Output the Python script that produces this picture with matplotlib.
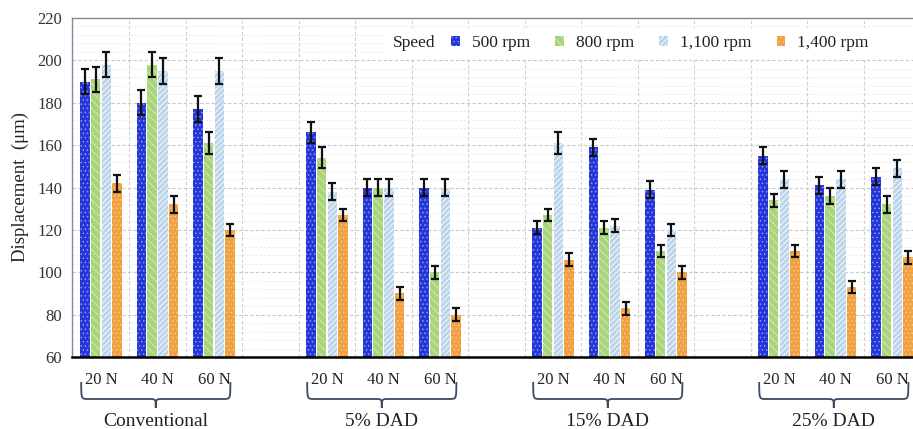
import matplotlib
matplotlib.use("Agg")
import matplotlib.pyplot as plt
import numpy as np
from matplotlib.patches import Rectangle, PathPatch
from matplotlib.path import Path
import matplotlib.transforms as mtransforms
from matplotlib.ticker import MultipleLocator

# ---- data ----
groups = ["Conventional", "5% DAD", "15% DAD", "25% DAD"]
loads = ["20 N", "40 N", "60 N"]
speeds = ["500 rpm", "800 rpm", "1,100 rpm", "1,400 rpm"]

# values per speed, ordered: group x load (12 clusters)
v500 = [190, 180, 177, 166, 140, 140, 121, 159, 139, 155, 141, 145]
v800 = [191, 198, 161, 154, 140, 100, 127, 121, 110, 134, 136, 132]
v1100 = [198, 195, 195, 138, 140, 140, 161, 122, 120, 144, 144, 149]
v1400 = [142, 132, 120, 127, 90, 80, 106, 83, 100, 110, 93, 107]

e500 = [6, 6, 6, 5, 4, 4, 3, 4, 4, 4, 4, 4]
e800 = [6, 6, 5, 5, 4, 3, 3, 3, 3, 3, 4, 4]
e1100 = [6, 6, 6, 4, 4, 4, 5, 3, 3, 4, 4, 4]
e1400 = [4, 4, 3, 3, 3, 3, 3, 3, 3, 3, 3, 3]

values = [v500, v800, v1100, v1400]
errors = [e500, e800, e1100, e1400]

colors = ["#2436d6", "#a8d47a", "#bcd4ea", "#f0a040"]
hatch_colors = ["#8a98ff", "#d6ecbf", "#ffffff", "#f8c888"]
hatches = ["....", "\\\\\\\\", "//////", "...."]

serif = ["Liberation Serif", "DejaVu Serif"]
plt.rcParams["font.family"] = serif
plt.rcParams["hatch.linewidth"] = 0.6

W, H = 913, 429
fig = plt.figure(figsize=(W / 100, H / 100), dpi=100)

unit = 56.5  # px per cluster
x_left = -0.513
x_right = 14.8
ax_left_px, ax_bottom_px, ax_top_px = 72, 357, 18
ax_w_px = (x_right - x_left) * unit
ax = fig.add_axes([ax_left_px / W, (H - ax_bottom_px) / H,
                   ax_w_px / W, (ax_bottom_px - ax_top_px) / H])

# cluster positions
pos = []
for g in range(len(groups)):
    for l in range(len(loads)):
        pos.append(g * 4 + l)
pos = np.array(pos, dtype=float)

step = 0.19
bw = 0.168
offsets = [-1.5 * step, -0.5 * step, 0.5 * step, 1.5 * step]

ax.set_axisbelow(True)
for i in range(4):
    ax.bar(pos + offsets[i], values[i], width=bw, bottom=0,
           color=colors[i], edgecolor=hatch_colors[i], linewidth=0,
           hatch=hatches[i], zorder=2)
    ax.errorbar(pos + offsets[i], values[i], yerr=errors[i], fmt="none",
                ecolor="#111111", elinewidth=1.6, capsize=2.8, capthick=1.6,
                zorder=3)

ax.set_ylim(60, 220)
ax.set_xlim(x_left, x_right)
ax.yaxis.set_major_locator(MultipleLocator(20))
ax.yaxis.set_minor_locator(MultipleLocator(4))

# grids
ax.grid(axis="y", which="major", color="#c8c8c8", linestyle=(0, (3, 2)), linewidth=0.8)
ax.grid(axis="y", which="minor", color="#e2e2e2", linestyle=(0, (2, 3)), linewidth=0.6)
vlines = np.arange(0.5, 15, 1.0)
for xv in vlines:
    ax.axvline(xv, color="#d0d0d0", linestyle=(0, (3, 2)), linewidth=0.8, zorder=0)

ax.set_xticks(pos)
ax.set_xticklabels(loads * len(groups), fontsize=12, color="#222222")
ax.tick_params(axis="x", length=0, pad=11)
ax.tick_params(axis="y", which="both", length=0, labelsize=12, labelcolor="#333333", pad=7)

ax.spines["right"].set_visible(False)
ax.spines["top"].set_color("#888888")
ax.spines["top"].set_linewidth(1.0)
ax.spines["left"].set_color("#7f8aa0")
ax.spines["left"].set_linewidth(1.0)
ax.spines["bottom"].set_color("#000000")
ax.spines["bottom"].set_linewidth(1.8)

ax.set_ylabel("Displacement  (\u03bcm)", fontsize=13.5, color="#222222", labelpad=6)

# braces
trans = mtransforms.blended_transform_factory(ax.transData, ax.transAxes)
ax_h = ax_bottom_px - ax_top_px
y_top = -25 / ax_h
y_mid = -42 / ax_h
y_tip = -51 / ax_h
r = 0.12
for g, name in enumerate(groups):
    x0 = g * 4 - 0.35
    x1 = g * 4 + 2 + 0.29
    xc = (x0 + x1) / 2
    verts = [(x0, y_top), (x0, y_mid), (x0, y_mid), (x0 + r, y_mid),
             (xc - r, y_mid), (xc, y_mid), (xc, y_mid), (xc, y_tip),
             (xc, y_mid), (xc, y_mid), (xc + r, y_mid),
             (x1 - r, y_mid), (x1, y_mid), (x1, y_mid), (x1, y_top)]
    codes = [Path.MOVETO, Path.CURVE4, Path.CURVE4, Path.CURVE4,
             Path.LINETO, Path.CURVE4, Path.CURVE4, Path.CURVE4,
             Path.CURVE4, Path.CURVE4, Path.CURVE4,
             Path.LINETO, Path.CURVE4, Path.CURVE4, Path.CURVE4]
    patch = PathPatch(Path(verts, codes), transform=trans, facecolor="none",
                      edgecolor="#3a4a60", linewidth=1.3, clip_on=False)
    ax.add_patch(patch)
    ax.text(xc, -64 / ax_h, name, transform=trans, ha="center", va="center",
            fontsize=14, color="#222222", clip_on=False)

# legend background band + "Speed" label
bg = Rectangle((383 / W, 1 - 59 / H), (W - 383) / W, 31 / H, transform=fig.transFigure,
               facecolor="white", edgecolor="none", zorder=4)
fig.patches.append(bg)
fig.text(393 / W, 1 - 43 / H, "Speed", ha="left", va="center", fontsize=12.5,
         color="#222222", zorder=6)

handles = []
for i in range(4):
    handles.append(Rectangle((0, 0), 1, 1, facecolor=colors[i],
                             edgecolor=hatch_colors[i], linewidth=0, hatch=hatches[i]))
leg = fig.legend(handles, speeds, loc="center left",
                 bbox_to_anchor=(451 / W, 1 - 43 / H), ncol=4,
                 frameon=False, fontsize=12.5, handlelength=0.5, handleheight=0.5,
                 handletextpad=0.7, columnspacing=1.45, borderpad=0,
                 borderaxespad=0)
leg.set_zorder(6)
for t in leg.get_texts():
    t.set_color("#222222")

fig.savefig("out.png", dpi=100)
